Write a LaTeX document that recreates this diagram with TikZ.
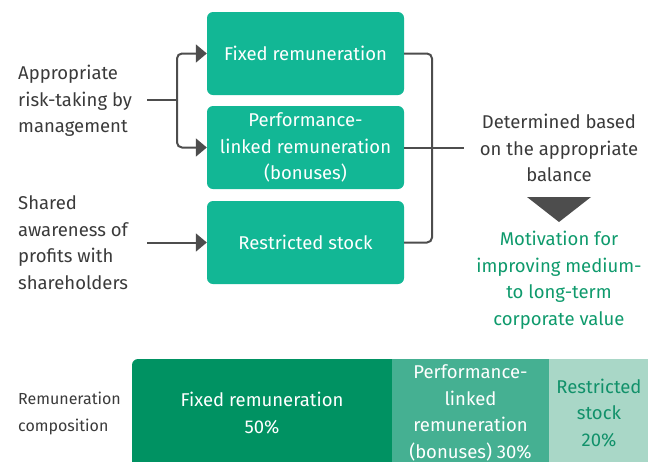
\documentclass[tikz,border=0pt]{standalone}
\usepackage{fontspec}
\setmainfont{Fira Sans}
\usetikzlibrary{arrows.meta}
\definecolor{boxteal}{HTML}{12B795}
\definecolor{linegray}{HTML}{4D4D4D}
\definecolor{textgray}{HTML}{3A3A3A}
\definecolor{motgreen}{HTML}{0E9A6C}
\definecolor{barfixed}{HTML}{009262}
\definecolor{barperf}{HTML}{45B092}
\definecolor{barrs}{HTML}{A9D7C7}
\definecolor{rstext}{HTML}{11916A}
\begin{document}
\begin{tikzpicture}[x=1pt,y=-1pt,
  font=\fontsize{18.5}{26.5}\selectfont,
  box/.style={fill=boxteal, rounded corners=6pt, text=white, align=center,
    minimum width=197pt, minimum height=83pt, inner sep=0pt},
  conn/.style={draw=linegray, line width=2pt},
  arr/.style={conn, -{Triangle[length=11pt,width=18pt]}},
  lbl/.style={align=left, anchor=west, text=textgray, inner sep=0pt},
  bartext/.style={align=center, text=white, inner sep=0pt},
  barbox/.style={minimum height=108pt, inner sep=0pt, align=center}]
\useasboundingbox (0,0) rectangle (648,461);
% top boxes
\node[box] (fixed) at (305.5,53.5) {Fixed remuneration};
\node[box] (perf) at (305.5,147.5) {Performance-\\linked remuneration\\(bonuses)};
\node[box] (rs) at (305.5,242.5) {Restricted stock};
% left labels
\node[lbl] (risk) at (18,101) {Appropriate\\risk-taking by\\management};
\node[lbl] (shared) at (18,242.5) {Shared\\awareness of\\profits with\\shareholders};
\coordinate (riskout) at (147,100);
\coordinate (jn) at (177,100);
\coordinate (sharedout) at (147,242.5);
\draw[conn] (riskout) -- (jn);
\draw[arr, rounded corners=5pt] (jn) |- (fixed.west);
\draw[arr, rounded corners=5pt] (jn) |- (perf.west);
\draw[arr] (sharedout) -- (rs.west);
% right bracket
\coordinate (mid) at (464,147.5);
\draw[conn, rounded corners=5pt] (fixed.east) -- (432,53.5) -- (432,242.5) -- (rs.east);
\draw[conn] (perf.east) -- (mid);
\node[align=center, text=textgray] (det) at (559,148) {Determined based\\on the appropriate\\balance};
\fill[linegray] (527,197) -- (591,197) -- (559,222) -- cycle;
\node[align=center, text=motgreen] (mot) at (559,280) {Motivation for\\improving medium-\\to long-term\\corporate value};
% bottom bar
\fill[barfixed] (132,467) [rounded corners=6pt]-- (132,359) [sharp corners]-- (392,359) -- (392,467) -- cycle;
\node[bartext] (bfixed) at (262,413) {Fixed remuneration\\50\%};
\node[barbox, fill=barperf, minimum width=157pt, text=white] (bperf) at (470.5,413) {Performance-\\linked\\remuneration\\(bonuses) 30\%};
\node[barbox, fill=barrs, minimum width=100pt, text=rstext] (brs) at (599,413) {Restricted\\stock\\20\%};
\node[lbl, font=\fontsize{16}{27}\selectfont] (comp) at (18,413) {Remuneration\\composition};
\end{tikzpicture}
\end{document}
